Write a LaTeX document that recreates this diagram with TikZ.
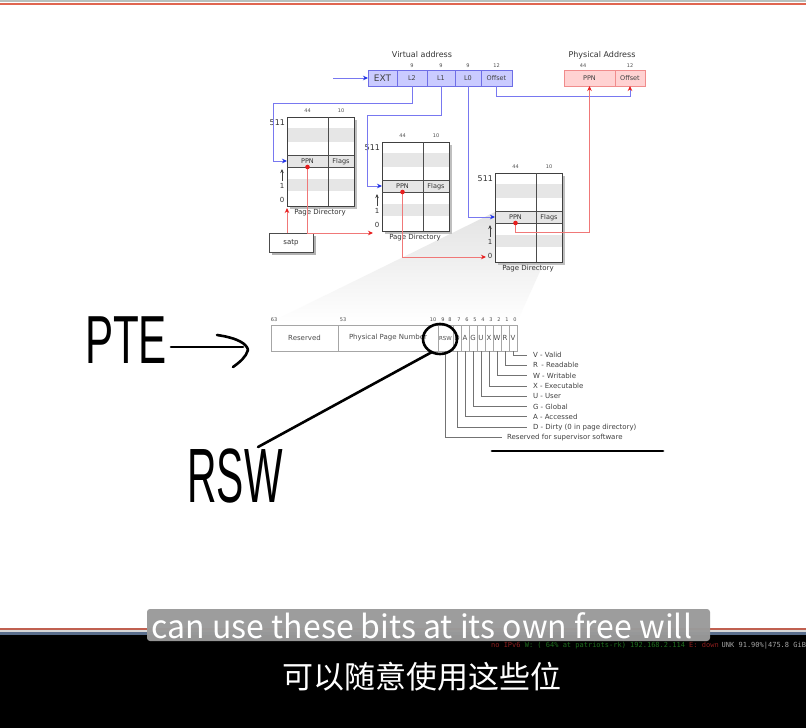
\documentclass[tikz,border=0pt]{standalone}
\usepackage{fontspec}
\setmainfont{DejaVu Sans}
\newfontfamily\cjk{Noto Sans CJK SC}
\newfontfamily\handf{Liberation Sans}
\newfontfamily\monof{DejaVu Sans Mono}
\usetikzlibrary{arrows.meta,calc}
\definecolor{vafill}{HTML}{CACBFF}
\definecolor{vadraw}{HTML}{6E6EE6}
\definecolor{bline}{HTML}{7878F0}
\definecolor{btip}{HTML}{1E32E6}
\definecolor{pafill}{HTML}{FFD2D2}
\definecolor{padraw}{HTML}{F08C8C}
\definecolor{rline}{HTML}{F07878}
\definecolor{rtip}{HTML}{E81E1E}
\definecolor{band}{HTML}{E6E6E6}
\definecolor{topgray}{HTML}{B8C0BC}
\definecolor{topred}{HTML}{E06650}
\definecolor{stA}{HTML}{C06050}
\definecolor{stB}{HTML}{D8D8D8}
\definecolor{stC}{HTML}{5A6E8C}
\definecolor{subgray}{HTML}{9A9A9A}
\definecolor{statred}{HTML}{8C1E1E}
\definecolor{statgreen}{HTML}{1E6E1E}
\newcommand\fsz[1]{\fontsize{#1}{#1}\selectfont}
\newcommand\pdir[3]{%
\begin{scope}[shift={(#2,#3)}]
\fill[black!25] (2.5,2.5) rectangle (69.5,91.5);
\fill[white] (0,0) rectangle (67,89);
\fill[band] (0,11) rectangle (67,25);
\fill[band] (0,62) rectangle (67,74);
\fill[band] (0,38) rectangle (67,50);
\node[draw=black!75,line width=0.9pt,minimum width=67pt,minimum height=89pt,anchor=north west] (#1) at (0,0) {};
\draw[pdline] (41,0) -- (41,89) (0,38) -- (67,38) (0,50) -- (67,50);
\node[lbl,font=\fsz{6.5}] (#1ppn) at (20.5,44.5) {PPN};
\node[lbl,font=\fsz{6.5}] (#1flags) at (54,44.5) {Flags};
\node[tiny] (#1wa) at (20.5,-6) {44};
\node[tiny] (#1wb) at (54,-6) {10};
\node[lbl,font=\fsz{8},anchor=east] (#1top) at (-2,6) {511};
\node[lbl] (#1one) at (-5,69) {1};
\node[lbl] (#1zero) at (-5,83) {0};
\coordinate (#1ua) at (-5,64);
\coordinate (#1ub) at (-5,52);
\draw[black!75,line width=0.8pt,-{Stealth[length=4pt,width=3.5pt]}] (#1ua) -- (#1ub);
\node[lbl] (#1cap) at (33,96) {Page Directory};
\coordinate (#1dot) at (20.5,50);
\coordinate (#1in) at (0,44);
\end{scope}}
\begin{document}
\begin{tikzpicture}[x=1pt,y=-1pt,inner sep=0pt,outer sep=0pt,
 vcell/.style={draw=vadraw,fill=vafill,line width=0.8pt,minimum height=16pt,text=black!75,font=\fsz{6.5}},
 pcell/.style={draw=padraw,fill=pafill,line width=0.8pt,minimum height=16pt,text=black!75,font=\fsz{6.5}},
 tiny/.style={text=black!70,font=\fsz{5}},
 lbl/.style={text=black!80,font=\fsz{7}},
 bconn/.style={draw=bline,line width=0.9pt,-{Stealth[length=5pt,width=4.5pt,color=btip]}},
 rconn/.style={draw=rline,line width=0.9pt,-{Stealth[length=5pt,width=4.5pt,color=rtip]}},
 pdline/.style={draw=black!70,line width=0.9pt},
 ptecell/.style={draw=black!35,line width=0.8pt,minimum height=26pt,text=black!70,font=\fsz{7}},
 legline/.style={draw=black!55,line width=0.8pt},
 legtxt/.style={text=black!75,font=\fsz{7},anchor=west},
 hand/.style={line width=2.6pt,line cap=round,line join=round,draw=black}]
\useasboundingbox (0,0) rectangle (806,728);
\fill[white] (0,0) rectangle (806,728);
\fill[topgray] (0,0) rectangle (806,2.2);
\fill[topred] (0,3.3) rectangle (806,5.2);
% zoom wedge
\shade[top color=black!11,bottom color=white] (495,212) -- (562,223) -- (517,322) -- (271,322) -- cycle;
% virtual address
\node[lbl,font=\fsz{8}] (vatitle) at (422,55) {Virtual address};
\node[vcell,font=\fsz{9},minimum width=29pt] (ext) at (382.5,78) {EXT};
\node[vcell,minimum width=30pt] (l2) at (412,78) {L2};
\node[vcell,minimum width=28pt] (l1) at (441,78) {L1};
\node[vcell,minimum width=26pt] (l0) at (468,78) {L0};
\node[vcell,minimum width=31pt] (voff) at (496.5,78) {Offset};
\node[tiny] (w2) at (412,66) {9};
\node[tiny] (w1) at (441,66) {9};
\node[tiny] (w0) at (468,66) {9};
\node[tiny] (wo) at (496.5,66) {12};
\coordinate (vin) at (333,78);
\draw[bconn] (vin) -- (ext.west);
% physical address
\node[lbl,font=\fsz{8}] (patitle) at (602,55) {Physical Address};
\node[pcell,minimum width=51pt] (pppn) at (589.5,78) {PPN};
\node[pcell,minimum width=30pt] (poff) at (630,78) {Offset};
\node[tiny] (pw1) at (583,66) {44};
\node[tiny] (pw2) at (630,66) {12};
% page directories
\pdir{pda}{287}{117}
\pdir{pdb}{382}{142}
\pdir{pdc}{495}{173}
% satp
\fill[black!30] (271.5,235.5) rectangle (315.5,254.5);
\node[draw=black!70,fill=white,line width=0.8pt,minimum width=44pt,minimum height=19pt,font=\fsz{7},text=black!80] (satp) at (291,242.5) {satp};
% connectors
\coordinate (bA) at (273,103);
\coordinate (bB) at (367,115);
\draw[bconn] (l2.south) |- (bA) |- (pdain);
\draw[bconn] (l1.south) |- (bB) |- (pdbin);
\draw[bconn] (l0.south) |- (pdcin);
\draw[draw=bline,line width=0.9pt,-{Stealth[length=5pt,width=4.5pt,color=rtip]}] (voff.south) -- ++(0,10) -| (poff.south);
\coordinate (pdabase) at (287,208);
\coordinate (pdbbase) at (373,233);
\coordinate (pdcbase) at (486,257);
\draw[rconn] ([xshift=-4pt]satp.north) -- (pdabase);
\draw[rconn] (pdadot) |- (pdbbase);
\draw[rconn] (pdbdot) |- (pdcbase);
\draw[rconn] (pdcdot) -- ++(0,9) -| (pppn.south);
\fill[rtip] (pdadot) circle[radius=2.3pt];
\fill[rtip] (pdbdot) circle[radius=2.3pt];
\fill[rtip] (pdcdot) circle[radius=2.3pt];
% PTE row
\node[ptecell,minimum width=67pt] (cres) at (304.5,338) {Reserved};
\node[ptecell,minimum width=100pt] (cppn) at (388,338) {Physical Page Number};
\node[ptecell,minimum width=15pt,font=\fsz{5.5}] (crsw) at (445.5,338) {RSW};
\node[ptecell,minimum width=8pt] (cD) at (457,338) {D};
\node[ptecell,minimum width=8pt] (cA) at (465,338) {A};
\node[ptecell,minimum width=8pt] (cG) at (473,338) {G};
\node[ptecell,minimum width=8pt] (cU) at (481,338) {U};
\node[ptecell,minimum width=8pt] (cX) at (489,338) {X};
\node[ptecell,minimum width=8pt] (cW) at (497,338) {W};
\node[ptecell,minimum width=8pt] (cR) at (505,338) {R};
\node[ptecell,minimum width=8pt] (cV) at (513,338) {V};
\node[tiny] (b63) at (274,320) {63};
\node[tiny] (b53) at (343,320) {53};
\node[tiny] (b10) at (433,320) {10};
\node[tiny] (b9) at (443,320) {9};
\node[tiny] (b8) at (450,320) {8};
\node[tiny] (b7) at (459,320) {7};
\node[tiny] (b6) at (467,320) {6};
\node[tiny] (b5) at (475,320) {5};
\node[tiny] (b4) at (483,320) {4};
\node[tiny] (b3) at (491,320) {3};
\node[tiny] (b2) at (499,320) {2};
\node[tiny] (b1) at (507,320) {1};
\node[tiny] (b0) at (515,320) {0};
% legend
\node[legtxt] (lV) at (533,355) {V - Valid};
\node[legtxt] (lR) at (533,365.3) {R\, - Readable};
\node[legtxt] (lW) at (533,375.6) {W - Writable};
\node[legtxt] (lX) at (533,385.9) {X - Executable};
\node[legtxt] (lU) at (533,396.2) {U - User};
\node[legtxt] (lG) at (533,406.5) {G - Global};
\node[legtxt] (lA) at (533,416.8) {A - Accessed};
\node[legtxt] (lD) at (533,427.1) {D - Dirty (0 in page directory)};
\node[legtxt] (lS) at (507,437.4) {Reserved for supervisor software};
\draw[legline] (cV.south) |- ([xshift=-6pt]lV.west);
\draw[legline] (cR.south) |- ([xshift=-6pt]lR.west);
\draw[legline] (cW.south) |- ([xshift=-6pt]lW.west);
\draw[legline] (cX.south) |- ([xshift=-6pt]lX.west);
\draw[legline] (cU.south) |- ([xshift=-6pt]lU.west);
\draw[legline] (cG.south) |- ([xshift=-6pt]lG.west);
\draw[legline] (cA.south) |- ([xshift=-6pt]lA.west);
\draw[legline] (cD.south) |- ([xshift=-6pt]lD.west);
\draw[legline] (crsw.south) |- ([xshift=-5pt]lS.west);
% handwritten annotations
\coordinate (ulA) at (492,451);
\coordinate (ulB) at (663,451);
\draw[hand,line width=2.8pt] (ulA) -- (ulB);
\node (pte) at (126,340) {\scalebox{0.62}[1]{\handf\fsz{68}PTE}};
\node (rswh) at (235,476) {\scalebox{0.53}[1]{\handf\fsz{77}RSW}};
\coordinate (arA) at (171,347);
\coordinate (arB) at (243,347);
\draw[hand] (arA) -- (arB);
\draw[hand] (217,335) .. controls (238,338) and (247,344) .. (248,350) .. controls (246,357) and (240,362) .. (233,367);
\draw[hand] (440,339) ellipse [x radius=17pt,y radius=15pt];
\coordinate (rswline) at (258,447);
\coordinate (circlebl) at (432,352);
\draw[hand] (rswline) -- (circlebl);
% bottom video bar
\fill[stA] (0,627.8) rectangle (806,629.6);
\fill[stB] (0,630.2) rectangle (806,631.8);
\fill[stC] (0,632.2) rectangle (806,635);
\fill[black] (0,635) rectangle (806,728);
\node[anchor=east,font=\monof\fsz{7},text=black!35] (stat) at (806,646) {UNK 91.90\%|475.8 GiB};
\node[anchor=east,font=\monof\fsz{7}] (stat2) at ([xshift=-3pt]stat.west) {\textcolor{statred}{no IPv6}|\textcolor{statgreen}{W: ( 64\% at patriots-rk) 192.168.2.114}|\textcolor{statred}{E: down}};
\node[fill=subgray,rounded corners=3pt,minimum width=563pt,minimum height=32pt,fill opacity=0.97] (subbox) at (428.5,625) {};
\node[text=white,font=\cjk\fsz{32}] (suben) at (422,626) {can use these bits at its own free will};
\node[text=white,font=\cjk\fsz{31}] (subzh) at (422,677) {可以随意使用这些位};
\end{tikzpicture}
\end{document}
